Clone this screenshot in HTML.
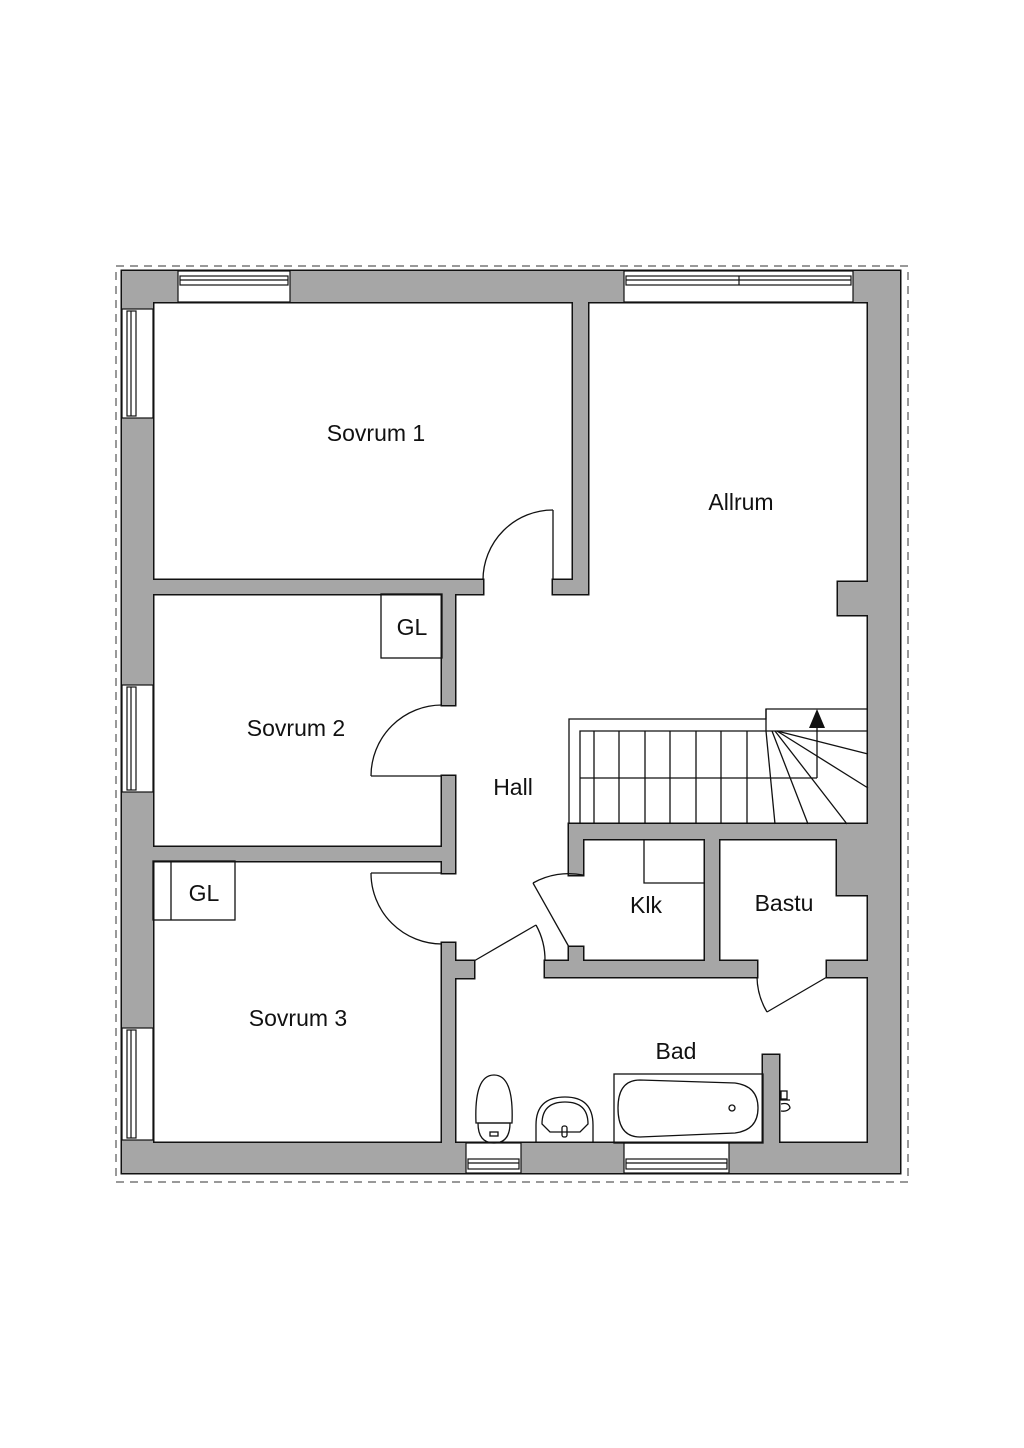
<!DOCTYPE html>
<html><head><meta charset="utf-8"><style>
html,body{margin:0;padding:0;background:#fff;width:1024px;height:1448px;overflow:hidden}
svg{display:block}
text{font-family:"Liberation Sans",sans-serif;font-size:23px;fill:#111;text-anchor:middle}
</style></head><body>
<svg width="1024" height="1448" viewBox="0 0 1024 1448" xmlns="http://www.w3.org/2000/svg">
<rect x="116" y="266" width="792" height="916" fill="none" stroke="#333" stroke-width="1" stroke-dasharray="8,6"/>
<g id="walls">
<rect x="122" y="271" width="778" height="31"/>
<rect x="122" y="271" width="31" height="902"/>
<rect x="868" y="271" width="32" height="902"/>
<rect x="122" y="1143" width="778" height="30"/>
<rect x="838" y="582" width="30" height="33"/>
<rect x="573" y="302" width="15" height="292"/>
<rect x="153" y="580" width="330" height="14"/>
<rect x="553" y="580" width="35" height="14"/>
<rect x="442" y="594" width="13" height="111"/>
<rect x="442" y="776" width="13" height="97"/>
<rect x="442" y="943" width="13" height="200"/>
<rect x="153" y="847" width="302" height="14"/>
<rect x="455" y="961" width="19" height="17"/>
<rect x="569" y="824" width="299" height="15"/>
<rect x="569" y="839" width="14" height="36"/>
<rect x="569" y="947" width="14" height="14"/>
<rect x="545" y="961" width="212" height="16"/>
<rect x="705" y="839" width="14" height="122"/>
<rect x="837" y="839" width="31" height="56"/>
<rect x="827" y="961" width="41" height="16"/>
<rect x="763" y="1055" width="16" height="88"/>
</g>
<use href="#walls" fill="none" stroke="#111" stroke-width="3"/>
<use href="#walls" fill="#a6a6a6" stroke="none"/>
<g fill="#fff" stroke="#111" stroke-width="1.2">
<!-- top windows -->
<rect x="178" y="271" width="112" height="31"/>
<rect x="180" y="276" width="108" height="9"/><line x1="180" y1="280" x2="288" y2="280"/>
<rect x="624" y="271" width="229" height="31"/>
<rect x="626" y="276" width="225" height="9"/><line x1="626" y1="280" x2="851" y2="280"/><line x1="739" y1="276" x2="739" y2="285"/>
<!-- left windows -->
<rect x="122" y="309" width="31" height="109"/><rect x="127" y="311" width="9" height="105"/><line x1="131" y1="311" x2="131" y2="416"/>
<rect x="122" y="685" width="31" height="107"/><rect x="127" y="687" width="9" height="103"/><line x1="131" y1="687" x2="131" y2="790"/>
<rect x="122" y="1028" width="31" height="112"/><rect x="127" y="1030" width="9" height="108"/><line x1="131" y1="1030" x2="131" y2="1138"/>
<!-- bottom windows -->
<rect x="466" y="1143" width="55" height="30"/><rect x="468" y="1159" width="51" height="10"/><line x1="468" y1="1163" x2="519" y2="1163"/>
<rect x="624" y="1143" width="105" height="30"/><rect x="626" y="1159" width="101" height="10"/><line x1="626" y1="1163" x2="727" y2="1163"/>
</g>
<g fill="none" stroke="#111" stroke-width="1.3">
<!-- doors -->
<line x1="553" y1="580" x2="553" y2="510"/><path d="M553 510 A70 70 0 0 0 483 580"/>
<line x1="442" y1="776" x2="371" y2="776"/><path d="M371 776 A71 71 0 0 1 442 705"/>
<line x1="442" y1="873" x2="371" y2="873"/><path d="M371 873 A71 71 0 0 0 442 944"/>
<line x1="474" y1="961" x2="536" y2="925"/><path d="M536 925 A72 72 0 0 1 545 961"/>
<line x1="569" y1="947" x2="533" y2="883"/><path d="M533 883 A73 73 0 0 1 583 875"/>
<line x1="827" y1="977" x2="767" y2="1012"/><path d="M767 1012 A70 70 0 0 1 757 977"/>
<!-- GL -->
<rect x="381" y="594" width="61" height="64"/>
<rect x="153" y="861" width="82" height="59"/><line x1="171" y1="861" x2="171" y2="920"/>
<!-- Klk shelf -->
<polyline points="644,839 644,883 705,883"/>
<!-- stairs -->
<polyline points="569,824 569,719 766,719 766,709 868,709"/>
<polyline points="580,824 580,731 868,731"/>
<line x1="766" y1="709" x2="766" y2="731"/>
<line x1="580" y1="778" x2="817" y2="778"/>
<line x1="817" y1="778" x2="817" y2="728"/>
<line x1="594" y1="731" x2="594" y2="824"/><line x1="619" y1="731" x2="619" y2="824"/>
<line x1="645" y1="731" x2="645" y2="824"/><line x1="670" y1="731" x2="670" y2="824"/>
<line x1="696" y1="731" x2="696" y2="824"/><line x1="721" y1="731" x2="721" y2="824"/>
<line x1="747" y1="731" x2="747" y2="824"/>
<line x1="766" y1="731" x2="775" y2="824"/>
<line x1="772" y1="731" x2="808" y2="824"/>
<line x1="775" y1="731" x2="847" y2="824"/>
<line x1="777" y1="731" x2="868" y2="788"/>
<line x1="777" y1="731" x2="868" y2="754"/>
<!-- bath -->
<rect x="614" y="1074" width="149" height="69"/>
<path d="M640 1080 L735 1083 Q758 1086 758 1108 Q758 1130 735 1133 L640 1137 Q618 1137 618 1108 Q618 1080 640 1080 Z"/>
<circle cx="732" cy="1108" r="3"/>
<!-- toilet -->
<path d="M476 1123 Q474 1075 494 1075 Q514 1075 512 1123 Z"/>
<path d="M478 1123 L510 1123 Q510 1143 494 1143 Q478 1143 478 1123 Z"/>
<rect x="490" y="1132" width="8" height="4"/>
<!-- sink -->
<path d="M536 1143 L536 1125 Q536 1097 565 1097 Q593 1097 593 1125 L593 1143"/>
<path d="M542 1124 Q542 1102 565 1102 Q588 1102 588 1124 L580 1132 L550 1132 Z"/>
<rect x="562" y="1126" width="5" height="11" rx="2"/>
<!-- tap -->
<rect x="781" y="1091" width="6" height="8"/><path d="M780 1100 h10 M781 1104 q8 -2 9 4 q-3 4 -9 3"/>
<!-- arrow -->
</g>
<polygon points="817,709 809,728 825,728" fill="#111"/>
<text x="376" y="441">Sovrum 1</text>
<text x="741" y="510">Allrum</text>
<text x="412" y="635">GL</text>
<text x="296" y="736">Sovrum 2</text>
<text x="204" y="901">GL</text>
<text x="298" y="1026">Sovrum 3</text>
<text x="513" y="795">Hall</text>
<text x="646" y="913">Klk</text>
<text x="784" y="911">Bastu</text>
<text x="676" y="1059">Bad</text>
</svg>
</body></html>
